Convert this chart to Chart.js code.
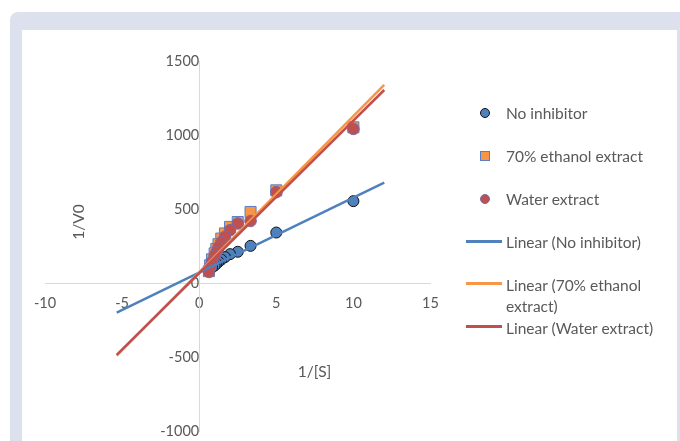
<!DOCTYPE html>
<html>
<head>
<meta charset="utf-8">
<script src="https://cdn.jsdelivr.net/npm/chart.js@4"></script>
<style>
  html, body { margin: 0; padding: 0; background: #fff; }
  body { width: 680px; height: 441px; position: relative; overflow: hidden; font-family: Lato, sans-serif; }
  #frame { position: absolute; left: 10px; top: 12px; width: 670px; height: 429px; background: #dde1ee; border-top-left-radius: 8px; }
  #panel { position: absolute; left: 22px; top: 30px; width: 655px; height: 411px; background: #fff; }
  #chart { position: absolute; left: 0; top: 0; }
  #legend { position: absolute; left: 466px; top: 0; color: #595959; font-size: 15.5px; }
  .item { position: absolute; left: 0; width: 200px; display: flex; align-items: flex-start; }
  .key { width: 36px; height: 18px; position: relative; flex: none; }
  .txt { margin-left: 4px; line-height: 21px; }
</style>
</head>
<body>
<div id="frame"></div>
<div id="panel"></div>
<canvas id="chart" width="680" height="441"></canvas>
<div id="legend"></div>
<script>
// 1/[S] values
const invS = [10, 5, 3.33, 2.5, 2, 1.67, 1.43, 1.25, 1.11, 1, 0.83, 0.71, 0.63];
// 1/V0 values
const noInhibitor = [553, 341, 251, 211, 195, 175, 158, 143, 130, 118, 105, 95, 85];
const ethanolExtract = [1052, 626, 480, 412, 379, 335, 300, 262, 230, 200, 160, 120, 80];
const waterExtract = [1041, 614, 419, 402, 357, 312, 275, 240, 205, 185, 145, 110, 75];

// trendline ends
const trendX = [-5.35, 12];
const noInhibitorTrend = [-201, 678];
const ethanolTrend = [-490, 1338];
const waterTrend = [-486, 1304];

const xTicks = [-10, -5, 0, 5, 10, 15];
const yTicks = [-1000, -500, 0, 500, 1000, 1500];

const seriesNames = ['No inhibitor', '70% ethanol extract', 'Water extract'];

const BLUE = '#4f81bd', ORANGE = '#f79646', RED = '#c0504d';
const GREY_TEXT = '#595959';

function pts(xs, ys) {
  return xs.map((x, i) => ({ x: x, y: ys[i] }));
}

const axisTitles = {
  id: 'axisTitles',
  afterDraw(chart) {
    const ctx = chart.ctx;
    ctx.save();
    ctx.fillStyle = GREY_TEXT;
    ctx.font = '15.5px Lato';
    ctx.textAlign = 'center';
    ctx.textBaseline = 'middle';
    ctx.fillText('1/[S]', 314.5, 372);
    ctx.translate(79, 222);
    ctx.rotate(-Math.PI / 2);
    ctx.fillText('1/V0', 0, 0);
    ctx.restore();
  }
};

new Chart(document.getElementById('chart').getContext('2d'), {
  type: 'scatter',
  data: {
    datasets: [
      { label: seriesNames[0], data: pts(invS, noInhibitor), pointStyle: 'circle', pointRadius: 5.5,
        backgroundColor: BLUE, borderColor: '#111', borderWidth: 1, order: 5 },
      { label: seriesNames[1], data: pts(invS, ethanolExtract), pointStyle: 'rect', pointRadius: 7.8,
        backgroundColor: ORANGE, borderColor: '#5b7fc4', borderWidth: 1, order: 4 },
      { label: seriesNames[2], data: pts(invS, waterExtract), pointStyle: 'circle', pointRadius: 5.8,
        backgroundColor: RED, borderColor: '#7a6aa8', borderWidth: 1, order: 3 },
      { label: 'Linear (' + seriesNames[0] + ')', data: pts(trendX, noInhibitorTrend), showLine: true,
        pointRadius: 0, borderColor: BLUE, borderWidth: 2.5, order: 2 },
      { label: 'Linear (' + seriesNames[1] + ')', data: pts(trendX, ethanolTrend), showLine: true,
        pointRadius: 0, borderColor: ORANGE, borderWidth: 2.5, order: 1 },
      { label: 'Linear (' + seriesNames[2] + ')', data: pts(trendX, waterTrend), showLine: true,
        pointRadius: 0, borderColor: RED, borderWidth: 2.5, order: 0 }
    ]
  },
  options: {
    responsive: false,
    animation: false,
    layout: { padding: { left: 45, right: 249.5, top: 61, bottom: 10 } },
    plugins: { legend: { display: false }, tooltip: { enabled: false } },
    scales: {
      x: {
        type: 'linear', position: { y: 0 }, min: -10, max: 15,
        afterBuildTicks: s => { s.ticks = xTicks.map(v => ({ value: v })); },
        afterFit: s => { s.height = 0; s.paddingLeft = 0; s.paddingRight = 0; },
        grid: { display: false, drawTicks: false },
        border: { display: true, color: '#d9d9d9', width: 1 },
        ticks: { color: GREY_TEXT, font: { family: 'Lato', size: 14.5 }, padding: 12, maxRotation: 0,
          callback: v => String(v) }
      },
      y: {
        type: 'linear', position: { x: 0 }, min: -1000, max: 1500,
        afterBuildTicks: s => { s.ticks = yTicks.map(v => ({ value: v })); },
        // ticks sit beside the axis at x = 0, so they need no room at the edges
        afterFit: s => { s.width = 0; s.paddingTop = 0; s.paddingBottom = 0; },
        grid: { display: false, drawTicks: false },
        border: { display: true, color: '#d9d9d9', width: 1 },
        ticks: { color: GREY_TEXT, font: { family: 'Lato', size: 14.5 }, padding: 16,
          callback: v => String(v) }
      }
    }
  },
  plugins: [axisTitles]
});

// legend, Excel style
const legendRows = [
  { text: seriesNames[0], kind: 'circle', fill: BLUE, edge: '#111', y: 113 },
  { text: seriesNames[1], kind: 'square', fill: ORANGE, edge: '#5b7fc4', y: 156 },
  { text: seriesNames[2], kind: 'circle', fill: RED, edge: '#7a6aa8', y: 199 },
  { text: 'Linear (' + seriesNames[0] + ')', kind: 'line', fill: BLUE, y: 242.5 },
  { text: 'Linear (70% ethanol<br>extract)', kind: 'line', fill: ORANGE, y: 285 },
  { text: 'Linear (' + seriesNames[2] + ')', kind: 'line', fill: RED, y: 328 }
];
const legend = document.getElementById('legend');
legendRows.forEach(r => {
  const item = document.createElement('div');
  item.className = 'item';
  item.style.top = (r.y - 10.5) + 'px';
  let key;
  if (r.kind === 'line') {
    key = '<div style="position:absolute;left:0;top:9px;width:36px;height:3px;margin-top:-1.5px;background:' + r.fill + '"></div>';
  } else {
    const rad = r.kind === 'circle' ? '50%' : '0';
    key = '<div style="position:absolute;left:14px;top:5px;width:8px;height:8px;border-radius:' + rad +
      ';background:' + r.fill + ';border:1px solid ' + r.edge + '"></div>';
  }
  item.innerHTML = '<div class="key">' + key + '</div><div class="txt">' + r.text + '</div>';
  legend.appendChild(item);
});
</script>
</body>
</html>
